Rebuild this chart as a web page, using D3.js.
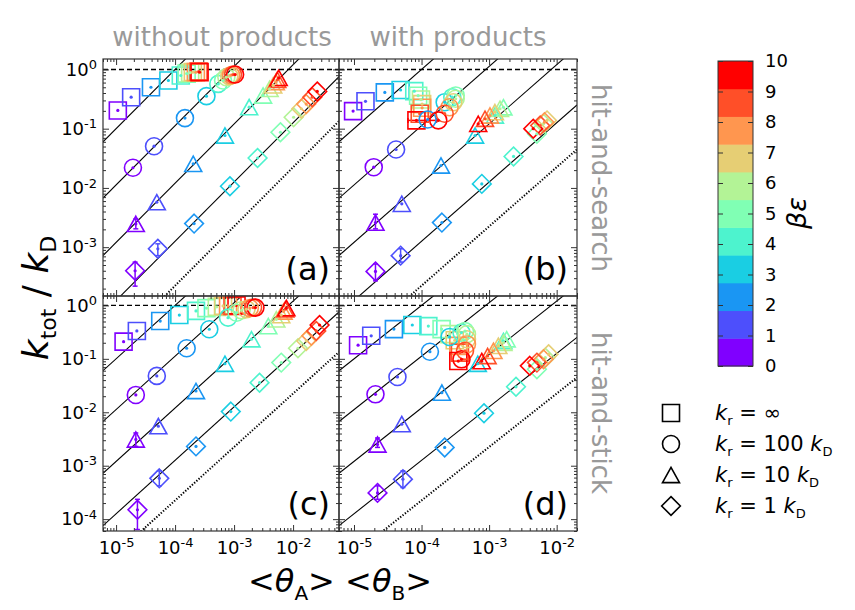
<!DOCTYPE html>
<html>
<head>
<meta charset="utf-8">
<script src="https://cdn.jsdelivr.net/npm/d3@7"></script>
<style>
  body { margin: 0; background: #fff; }
  text { font-family: "DejaVu Sans", sans-serif; }
</style>
</head>
<body>
<svg id="chart" width="855" height="610"></svg>
<script>
// colour value of each point (beta*epsilon)
const betaEps = [0, 1, 2, 3, 4, 5, 6, 7, 8, 9, 10];
const krLabels = ["∞", "100", "10", "1"];
const xTicks = [1e-5, 1e-4, 1e-3, 1e-2];
const yTopTicks = [1e-3, 1e-2, 1e-1, 1];
const yBottomTicks = [1e-4, 1e-3, 1e-2, 1e-1, 1];
// guide lines k = 10^c * <thA><thB>, one per kr, plus the dotted one
const guideExp = [4.0, 3.05, 2.08, 1.1];
const dottedExp = 0.35;

// (a) hit-and-search, without products
const aSquareX = [1.07e-5, 1.8e-5, 3.9e-5, 7.7e-5, 1.25e-4, 1.57e-4, 1.8e-4, 2.0e-4, 2.25e-4, 2.5e-4, 2.6e-4];
const aSquareY = [0.203, 0.34, 0.50, 0.65, 0.79, 0.85, 0.88, 0.90, 0.90, 0.92, 0.90];
const aCircleX = [1.93e-5, 4.4e-5, 1.47e-4, 3.4e-4, 5.4e-4, 6.5e-4, 7.4e-4, 8.3e-4, 8.9e-4, 9.6e-4, 1.04e-3];
const aCircleY = [0.0219, 0.0506, 0.151, 0.354, 0.57, 0.65, 0.74, 0.77, 0.80, 0.82, 0.82];
const aTriangleX = [2.16e-5, 4.9e-5, 2.03e-4, 7.0e-4, 1.8e-3, 3.1e-3, 4.0e-3, 4.6e-3, 5.1e-3, 5.4e-3, 5.7e-3];
const aTriangleY = [0.00247, 0.00575, 0.0255, 0.0768, 0.231, 0.364, 0.47, 0.54, 0.61, 0.67, 0.72];
const aDiamondX = [2.1e-5, 5.1e-5, 2.1e-4, 8.5e-4, 2.5e-3, 6.1e-3, 0.0102, 0.0138, 0.0167, 0.0211, 0.0257];
const aDiamondY = [4.0e-4, 9.4e-4, 2.5e-3, 0.0107, 0.032, 0.087, 0.156, 0.217, 0.26, 0.34, 0.425];

// (b) hit-and-search, with products
const bSquareX = [9.7e-6, 1.48e-5, 2.86e-5, 4.9e-5, 7.8e-5, 8.9e-5, 9.8e-5, 1.02e-4, 1.02e-4, 9.4e-5, 8.4e-5];
const bSquareY = [0.198, 0.29, 0.41, 0.45, 0.43, 0.36, 0.31, 0.26, 0.225, 0.179, 0.138];
const bCircleX = [1.96e-5, 4.2e-5, 1.23e-4, 2.2e-4, 2.85e-4, 3.2e-4, 3.2e-4, 2.95e-4, 2.6e-4, 2.2e-4, 1.77e-4];
const bCircleY = [0.0224, 0.0445, 0.143, 0.28, 0.34, 0.364, 0.32, 0.28, 0.23, 0.179, 0.138];
const bTriangleX = [2.08e-5, 5.1e-5, 1.94e-4, 6.2e-4, 1.22e-3, 1.63e-3, 1.45e-3, 1.22e-3, 1.03e-3, 8.7e-4, 6.9e-4];
const bTriangleY = [0.0026, 0.0054, 0.0239, 0.0768, 0.167, 0.23, 0.217, 0.19, 0.167, 0.147, 0.121];
const bDiamondX = [2.08e-5, 4.9e-5, 2.0e-4, 7.8e-4, 2.3e-3, 5.1e-3, 6.4e-3, 7.2e-3, 6.6e-3, 5.7e-3, 4.5e-3];
const bDiamondY = [3.9e-4, 7.2e-4, 2.6e-3, 0.0117, 0.034, 0.082, 0.121, 0.138, 0.129, 0.113, 0.10];

// (c) hit-and-stick, without products
const cSquareX = [1.34e-5, 2.25e-5, 5.6e-5, 1.18e-4, 2.26e-4, 3.4e-4, 5.1e-4, 6.5e-4, 7.9e-4, 9.4e-4, 1.1e-3];
const cSquareY = [0.21, 0.333, 0.51, 0.66, 0.79, 0.89, 0.94, 0.98, 0.98, 0.98, 1.0];
const cCircleX = [2.16e-5, 4.9e-5, 1.57e-4, 3.8e-4, 7.9e-4, 1.1e-3, 1.34e-3, 1.62e-3, 1.85e-3, 2.1e-3, 2.3e-3];
const cCircleY = [0.0211, 0.0479, 0.158, 0.358, 0.59, 0.73, 0.81, 0.85, 0.89, 0.91, 0.91];
const cTriangleX = [2.16e-5, 5.2e-5, 2.26e-4, 7.0e-4, 1.97e-3, 3.8e-3, 5.2e-3, 6.3e-3, 6.9e-3, 7.4e-3, 7.7e-3];
const cTriangleY = [3.1e-3, 5.5e-3, 0.025, 0.081, 0.233, 0.41, 0.55, 0.66, 0.77, 0.85, 0.89];
const cDiamondX = [2.3e-5, 5.4e-5, 2.26e-4, 8.8e-4, 2.7e-3, 6.3e-3, 0.0121, 0.0167, 0.0204, 0.0247, 0.0281];
const cDiamondY = [1.5e-4, 5.8e-4, 2.3e-3, 0.0103, 0.0358, 0.085, 0.158, 0.216, 0.27, 0.333, 0.43];

// (d) hit-and-stick, with products
const dSquareX = [1.15e-5, 1.8e-5, 3.9e-5, 7.3e-5, 1.26e-4, 1.98e-4, 2.6e-4, 3.1e-4, 3.5e-4, 3.7e-4, 3.5e-4];
const dSquareY = [0.18, 0.27, 0.36, 0.43, 0.41, 0.36, 0.29, 0.223, 0.175, 0.131, 0.091];
const dCircleX = [2.08e-5, 4.4e-5, 1.33e-4, 2.6e-4, 3.9e-4, 4.4e-4, 4.7e-4, 4.7e-4, 4.7e-4, 4.4e-4, 3.9e-4];
const dCircleY = [0.0217, 0.0458, 0.136, 0.257, 0.31, 0.33, 0.29, 0.233, 0.188, 0.141, 0.098];
const dTriangleX = [2.23e-5, 5.1e-5, 2.0e-4, 6.8e-4, 1.63e-3, 1.82e-3, 1.63e-3, 1.37e-3, 1.16e-3, 9.5e-4, 7.8e-4];
const dTriangleY = [2.5e-3, 6.0e-3, 0.0233, 0.081, 0.216, 0.233, 0.20, 0.175, 0.141, 0.113, 0.091];
const dDiamondX = [2.23e-5, 5.3e-5, 2.2e-4, 8.4e-4, 2.5e-3, 5.1e-3, 6.8e-3, 7.6e-3, 6.4e-3, 5.1e-3, 4.0e-3];
const dDiamondY = [3.1e-4, 5.6e-4, 2.2e-3, 9.6e-3, 0.030, 0.064, 0.105, 0.122, 0.098, 0.085, 0.074];

// error bars: panel, kr index, betaEps index, low, high
const yErrBars = [
  ["a", 3, 0, 2.2e-4, 5.6e-4], ["a", 3, 1, 7.2e-4, 1.14e-3], ["a", 2, 0, 2.04e-3, 3.0e-3],
  ["b", 3, 0, 2.7e-4, 5.2e-4], ["b", 3, 1, 5.6e-4, 9.4e-4], ["b", 2, 0, 2.04e-3, 3.6e-3],
  ["c", 3, 0, 6.4e-5, 2.35e-4], ["c", 3, 1, 4.2e-4, 8.0e-4], ["c", 2, 0, 2.3e-3, 4.1e-3],
  ["d", 3, 0, 2.35e-4, 4.2e-4], ["d", 3, 1, 3.9e-4, 8.0e-4], ["d", 2, 0, 2.2e-3, 3.3e-3]
];
const xErrBars = [["b", 0, 10, 6.3e-5, 1.67e-4]];

// rainbow colormap sampled at the 11 betaEps values
const palette = ["#8000ff", "#4d4ffc", "#1a96f3", "#1acee3", "#4df3ce", "#80ffb4",
                 "#b3f396", "#e6ce74", "#ff964f", "#ff4f28", "#ff0000"];

const svg = d3.select("#chart");
const axisColor = "#333";

const xLeft = d3.scaleLog().domain([6e-6, 6e-2]).range([103, 339]);
const xRight = d3.scaleLog().domain([6e-6, 2e-2]).range([339, 577]);
const yTop = d3.scaleLog().domain([1.5e-4, 1.5]).range([296, 59]);
const yBottom = d3.scaleLog().domain([6e-5, 1.5]).range([531, 296]);

const panels = [
  {id: "a", x: xLeft, y: yTop, yTicks: yTopTicks, showX: false, showY: true,
   series: [[aSquareX, aSquareY], [aCircleX, aCircleY], [aTriangleX, aTriangleY], [aDiamondX, aDiamondY]]},
  {id: "b", x: xRight, y: yTop, yTicks: yTopTicks, showX: false, showY: false,
   series: [[bSquareX, bSquareY], [bCircleX, bCircleY], [bTriangleX, bTriangleY], [bDiamondX, bDiamondY]]},
  {id: "c", x: xLeft, y: yBottom, yTicks: yBottomTicks, showX: true, showY: true,
   series: [[cSquareX, cSquareY], [cCircleX, cCircleY], [cTriangleX, cTriangleY], [cDiamondX, cDiamondY]]},
  {id: "d", x: xRight, y: yBottom, yTicks: yBottomTicks, showX: true, showY: false,
   series: [[dSquareX, dSquareY], [dCircleX, dCircleY], [dTriangleX, dTriangleY], [dDiamondX, dDiamondY]]}
];

function markerPath(kind, s) {
  if (kind === 0) return `M${-s},${-s}h${2 * s}v${2 * s}h${-2 * s}Z`;
  if (kind === 1) return `M${s},0A${s},${s} 0 1,1 ${-s},0A${s},${s} 0 1,1 ${s},0Z`;
  if (kind === 2) return `M0,${-s * 0.9}L${s},${s * 0.9}L${-s},${s * 0.9}Z`;
  return `M0,${-s * 1.1}L${s * 1.1},0L0,${s * 1.1}L${-s * 1.1},0Z`;
}

function powerLabel(sel) {
  sel.each(function (d) {
    const t = d3.select(this);
    const e = Math.round(Math.log10(d));
    t.text(null);
    t.append("tspan").text("10");
    t.append("tspan").attr("dy", "-0.5em").attr("font-size", "13px").text(e === 0 ? "0" : String(e));
  });
}

function minorTicks(scale, major) {
  return scale.ticks().filter(v => !major.some(m => Math.abs(m - v) / m < 1e-6));
}

panels.forEach(p => {
  const [x0, x1] = p.x.range();
  const [y1, y0] = p.y.range();
  const w = x1 - x0, h = y1 - y0;
  const g = svg.append("g");

  const clipId = "clip-" + p.id;
  svg.append("clipPath").attr("id", clipId)
    .append("rect").attr("x", x0).attr("y", y0).attr("width", w).attr("height", h);
  const plot = g.append("g").attr("clip-path", `url(#${clipId})`);

  const xd = p.x.domain();
  // guide lines
  guideExp.forEach(c => {
    plot.append("line")
      .attr("x1", p.x(xd[0])).attr("y1", p.y(Math.pow(10, c) * xd[0]))
      .attr("x2", p.x(xd[1])).attr("y2", p.y(Math.pow(10, c) * xd[1]))
      .attr("stroke", "#000").attr("stroke-width", 1.1);
  });
  plot.append("line")
    .attr("x1", p.x(xd[0])).attr("y1", p.y(Math.pow(10, dottedExp) * xd[0]))
    .attr("x2", p.x(xd[1])).attr("y2", p.y(Math.pow(10, dottedExp) * xd[1]))
    .attr("stroke", "#000").attr("stroke-width", 2).attr("stroke-dasharray", "1.3,1.7");
  plot.append("line")
    .attr("x1", x0).attr("x2", x1).attr("y1", p.y(1)).attr("y2", p.y(1))
    .attr("stroke", "#000").attr("stroke-width", 1.4).attr("stroke-dasharray", "5,3");

  // error bars
  yErrBars.filter(e => e[0] === p.id).forEach(e => {
    const xv = p.x(p.series[e[1]][0][e[2]]);
    const col = palette[e[2]];
    const eg = plot.append("g").attr("stroke", col).attr("stroke-width", 1.5);
    eg.append("line").attr("x1", xv).attr("x2", xv).attr("y1", p.y(e[3])).attr("y2", p.y(e[4]));
    eg.append("line").attr("x1", xv - 2.5).attr("x2", xv + 2.5).attr("y1", p.y(e[3])).attr("y2", p.y(e[3]));
    eg.append("line").attr("x1", xv - 2.5).attr("x2", xv + 2.5).attr("y1", p.y(e[4])).attr("y2", p.y(e[4]));
  });
  xErrBars.filter(e => e[0] === p.id).forEach(e => {
    const yv = p.y(p.series[e[1]][1][e[2]]);
    const col = palette[e[2]];
    const eg = plot.append("g").attr("stroke", col).attr("stroke-width", 1.5);
    eg.append("line").attr("y1", yv).attr("y2", yv).attr("x1", p.x(e[3])).attr("x2", p.x(e[4]));
    eg.append("line").attr("y1", yv - 2.5).attr("y2", yv + 2.5).attr("x1", p.x(e[3])).attr("x2", p.x(e[3]));
    eg.append("line").attr("y1", yv - 2.5).attr("y2", yv + 2.5).attr("x1", p.x(e[4])).attr("x2", p.x(e[4]));
  });

  // markers
  p.series.forEach(([xs, ys], k) => {
    const pts = betaEps.map((b, i) => ({b, x: xs[i], y: ys[i]}));
    const sg = plot.append("g");
    sg.selectAll("path").data(pts).join("path")
      .attr("transform", d => `translate(${p.x(d.x)},${p.y(d.y)})`)
      .attr("d", markerPath(k, 8.5))
      .attr("fill", "none")
      .attr("stroke", d => palette[d.b])
      .attr("stroke-width", 1.6);
    sg.selectAll("circle").data(pts).join("circle")
      .attr("cx", d => p.x(d.x)).attr("cy", d => p.y(d.y)).attr("r", 1.6)
      .attr("fill", d => palette[d.b]);
  });

  // axes (ticks pointing inward)
  const axes = [
    {ax: d3.axisBottom(p.x), tr: `translate(0,${y1})`, vals: xTicks, minor: minorTicks(p.x, xTicks), lab: p.showX},
    {ax: d3.axisTop(p.x), tr: `translate(0,${y0})`, vals: xTicks, minor: minorTicks(p.x, xTicks), lab: false},
    {ax: d3.axisLeft(p.y), tr: `translate(${x0},0)`, vals: p.yTicks, minor: minorTicks(p.y, p.yTicks), lab: p.showY},
    {ax: d3.axisRight(p.y), tr: `translate(${x1},0)`, vals: p.yTicks, minor: minorTicks(p.y, p.yTicks), lab: false}
  ];
  axes.forEach((a, i) => {
    const major = g.append("g").attr("transform", a.tr)
      .call(a.ax.tickValues(a.vals).tickSizeInner(-6).tickSizeOuter(0)
        .tickPadding(i === 0 ? 10 : 6).tickFormat(a.lab ? d => d : () => ""));
    major.select(".domain").remove();
    major.selectAll(".tick line").attr("stroke", axisColor);
    major.selectAll(".tick text").attr("font-size", "18px").attr("fill", "#000")
      .attr("font-family", "DejaVu Sans");
    if (a.lab) major.selectAll(".tick text").call(powerLabel);
    const minor = g.append("g").attr("transform", a.tr)
      .call(a.ax.tickValues(a.minor).tickSizeInner(-3).tickSizeOuter(0).tickFormat(() => ""));
    minor.select(".domain").remove();
    minor.selectAll(".tick line").attr("stroke", axisColor);
  });

  g.append("rect").attr("x", x0).attr("y", y0).attr("width", w).attr("height", h)
    .attr("fill", "none").attr("stroke", axisColor).attr("stroke-width", 1.2);

  g.append("text").attr("x", x1 - 9).attr("y", y1 - 16).attr("text-anchor", "end")
    .attr("font-size", "32px").text(`(${p.id})`);
});

// column and row titles
const grey = "#999";
svg.append("text").attr("x", 222).attr("y", 46).attr("text-anchor", "middle")
  .attr("font-size", "26px").attr("fill", grey).text("without products");
svg.append("text").attr("x", 458).attr("y", 46).attr("text-anchor", "middle")
  .attr("font-size", "26px").attr("fill", grey).text("with products");
svg.append("text").attr("transform", "translate(592,178) rotate(90)").attr("text-anchor", "middle")
  .attr("font-size", "26px").attr("fill", grey).text("hit-and-search");
svg.append("text").attr("transform", "translate(592,413) rotate(90)").attr("text-anchor", "middle")
  .attr("font-size", "26px").attr("fill", grey).text("hit-and-stick");

// axis labels
const yLab = svg.append("text").attr("transform", "translate(48,298) rotate(-90)")
  .attr("text-anchor", "middle").attr("font-size", "36px");
yLab.append("tspan").attr("font-style", "italic").text("k");
yLab.append("tspan").attr("font-size", "22px").attr("dy", 8).text("tot");
yLab.append("tspan").attr("dy", -8).text(" / ");
yLab.append("tspan").attr("font-style", "italic").text("k");
yLab.append("tspan").attr("font-size", "22px").attr("dy", 8).text("D");

const xLab = svg.append("text").attr("x", 340).attr("y", 592)
  .attr("text-anchor", "middle").attr("font-size", "32px");
xLab.append("tspan").text("<");
xLab.append("tspan").attr("font-style", "italic").text("θ");
xLab.append("tspan").attr("font-size", "20px").attr("dy", 8).text("A");
xLab.append("tspan").attr("dy", -8).text("> <");
xLab.append("tspan").attr("font-style", "italic").text("θ");
xLab.append("tspan").attr("font-size", "20px").attr("dy", 8).text("B");
xLab.append("tspan").attr("dy", -8).text(">");

// colorbar
const cbX = 718, cbW = 35;
const cbY = d3.scaleLinear().domain([0, 10]).range([366, 61]);
const band = (cbY(0) - cbY(10)) / betaEps.length;
svg.append("g").selectAll("rect").data(betaEps).join("rect")
  .attr("x", cbX).attr("width", cbW)
  .attr("y", (d, i) => cbY(0) - (i + 1) * band).attr("height", band + 0.5)
  .attr("fill", d => palette[d]);
svg.append("rect").attr("x", cbX).attr("y", cbY(10)).attr("width", cbW).attr("height", cbY(0) - cbY(10))
  .attr("fill", "none").attr("stroke", axisColor).attr("stroke-width", 1);
const cbAxis = svg.append("g").attr("transform", `translate(${cbX + cbW},0)`)
  .call(d3.axisRight(cbY).tickValues(betaEps).tickSizeInner(-5).tickSizeOuter(0).tickPadding(12).tickFormat(d3.format("d")));
cbAxis.select(".domain").remove();
cbAxis.selectAll(".tick line").attr("stroke", axisColor);
cbAxis.selectAll(".tick text").attr("font-size", "18px").attr("font-family", "DejaVu Sans").attr("fill", "#000");
const cbLeft = svg.append("g").attr("transform", `translate(${cbX},0)`)
  .call(d3.axisLeft(cbY).tickValues(betaEps).tickSizeInner(-5).tickSizeOuter(0).tickFormat(() => ""));
cbLeft.select(".domain").remove();
cbLeft.selectAll(".tick line").attr("stroke", axisColor);
svg.append("text").attr("transform", "translate(806,213) rotate(-90)").attr("text-anchor", "middle")
  .attr("font-size", "27px").attr("font-style", "italic").text("βε");

// legend
const legY = d3.scalePoint().domain(krLabels).range([413, 506]);
krLabels.forEach((lab, k) => {
  const yy = legY(lab);
  svg.append("path").attr("transform", `translate(671,${yy})`).attr("d", markerPath(k, 8.5))
    .attr("fill", "none").attr("stroke", "#000").attr("stroke-width", 1.6);
  const t = svg.append("text").attr("x", 715).attr("y", yy + 7).attr("font-size", "21px");
  t.append("tspan").attr("font-style", "italic").text("k");
  t.append("tspan").attr("font-size", "13px").attr("dy", 5).text("r");
  t.append("tspan").attr("dy", -5).text(lab === "∞" ? " = ∞" : ` = ${lab} `);
  if (lab !== "∞") {
    t.append("tspan").attr("font-style", "italic").text("k");
    t.append("tspan").attr("font-size", "13px").attr("dy", 5).text("D");
  }
});
</script>
</body>
</html>
